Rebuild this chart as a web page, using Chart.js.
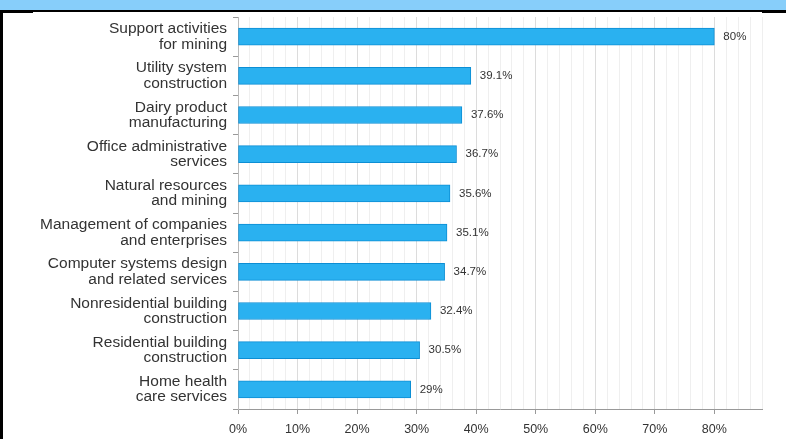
<!DOCTYPE html>
<html>
<head>
<meta charset="utf-8">
<script src="https://cdn.jsdelivr.net/npm/chart.js@4"></script>
<style>
  html, body { margin: 0; padding: 0; background: #fff; }
  #wrap { position: relative; width: 786px; height: 439px; }
</style>
</head>
<body>
<div id="wrap"><canvas id="myChart" width="786" height="439"></canvas></div>
<script>
const categories = [
  ["Support activities", "for mining"],
  ["Utility system", "construction"],
  ["Dairy product", "manufacturing"],
  ["Office administrative", "services"],
  ["Natural resources", "and mining"],
  ["Management of companies", "and enterprises"],
  ["Computer systems design", "and related services"],
  ["Nonresidential building", "construction"],
  ["Residential building", "construction"],
  ["Home health", "care services"],
];
const shares = [80, 39.1, 37.6, 36.7, 35.6, 35.1, 34.7, 32.4, 30.5, 29];
const xTickStep = 2;
const xMax = 88;

// header strip + black frame bits
const frame = {
  id: "frame",
  beforeDraw(chart) {
    const c = chart.ctx;
    c.save();
    c.fillStyle = "#87cefa";
    c.fillRect(0, 0, chart.width, 10);
    c.fillStyle = "#000";
    c.fillRect(0, 10, chart.width, 2);
    c.fillRect(0, 10, 33, 3);
    c.fillRect(762, 10, chart.width - 762, 3);
    c.fillRect(0, 10, 3, chart.height);
    c.restore();
  },
};

// value labels at bar ends
const barLabels = {
  id: "barLabels",
  afterDatasetsDraw(chart) {
    const c = chart.ctx;
    c.save();
    c.font = "11.5px 'Liberation Sans', Arial, sans-serif";
    c.fillStyle = "#333";
    c.textBaseline = "middle";
    chart.getDatasetMeta(0).data.forEach((bar, i) => {
      c.fillText(shares[i] + "%", bar.x + 9, bar.y);
    });
    c.restore();
  },
};

const ctx = document.getElementById("myChart");

new Chart(ctx, {
  type: "bar",
  data: {
    labels: categories,
    datasets: [
      {
        data: shares,
        backgroundColor: "#2ab1f0",
        borderColor: "#0c8ed4",
        borderWidth: 1,
        borderSkipped: false,
        barThickness: 17,
      },
    ],
  },
  options: {
    indexAxis: "y",
    responsive: false,
    animation: false,
    layout: { padding: { top: 17, right: 24, left: 0, bottom: 0 } },
    plugins: {
      legend: { display: false },
      tooltip: { enabled: false },
    },
    scales: {
      x: {
        min: 0,
        max: xMax,
        afterFit: (s) => { s.height = 30; },
        ticks: {
          stepSize: xTickStep,
          autoSkip: false,
          maxRotation: 0,
          padding: 8,
          color: "#333",
          font: { family: "'Liberation Sans', Arial, sans-serif", size: 12.5 },
          callback: (v) => (v % 10 === 0 ? v + "%" : ""),
        },
        grid: {
          color: (g) => (g.tick && g.tick.value % 10 === 0 ? "#dcdcdc" : "#efefef"),
          tickColor: (g) => (g.tick && g.tick.value % 10 === 0 ? "#999" : "rgba(0,0,0,0)"),
          tickLength: 5,
        },
        border: { color: "#999" },
      },
      y: {
        afterFit: (s) => {
          s.width = 238;
          s.paddingTop = 0;
          s.paddingBottom = 0;
        },
        ticks: {
          autoSkip: false,
          color: "#333",
          padding: 6,
          font: { family: "'Liberation Sans', Arial, sans-serif", size: 15.5, lineHeight: 1.0 },
        },
        grid: {
          offset: true,
          drawOnChartArea: false,
          tickLength: 5,
          tickColor: "#999",
        },
        border: { color: "#bbb" },
      },
    },
  },
  plugins: [frame, barLabels],
});
</script>
</body>
</html>
